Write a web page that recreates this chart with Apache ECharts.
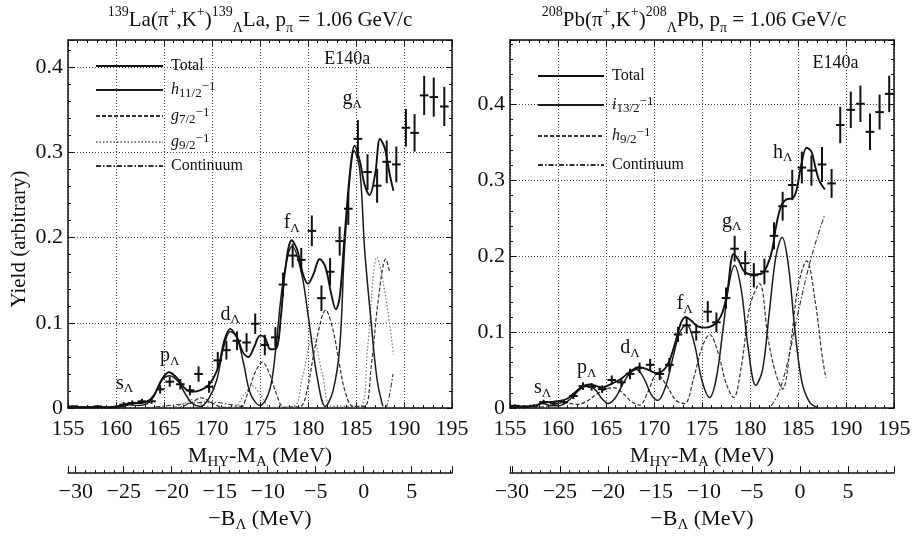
<!DOCTYPE html>
<html>
<head>
<meta charset="utf-8">
<script src="https://cdn.jsdelivr.net/npm/echarts@6/dist/echarts.min.js"></script>
<style>html,body{margin:0;padding:0;background:#fff}#c{width:915px;height:538px}</style>
</head>
<body>
<div id="c"></div>
<script>
// ---------------- DATA ----------------
// axis settings
const xMin = 155, xMax = 195, xStep = 5;
const laYMax = 0.432, pbYMax = 0.485, yStep = 0.1;
const laBOffset = 185.8, pbBOffset = 185.2;   // -B_Lambda = (M_HY - M_A) - offset

// 139La data points (M, yield, error)
const laX = [155.5,156.4,157.3,158.1,158.9,159.8,160.8,161.7,162.7,163.7,164.6,165.6,166.7,167.7,168.6,169.7,170.6,171.5,172.6,173.6,174.5,175.5,176.6,177.4,178.4,179.3,180.4,181.4,182.3,183.3,184.2,185.2,186.2,187.2,188.2,189.2,190.2,191.1,192.1,193.1,194.2];
const laY = [0.002,0.001,0.001,0.002,0.001,0.001,0.004,0.006,0.008,0.008,0.022,0.031,0.028,0.021,0.040,0.025,0.056,0.068,0.079,0.077,0.099,0.074,0.083,0.145,0.179,0.174,0.208,0.129,0.160,0.196,0.234,0.316,0.277,0.261,0.289,0.286,0.329,0.323,0.367,0.365,0.354];
const laErr = [0.001,0.001,0.001,0.001,0.001,0.001,0.003,0.003,0.003,0.003,0.005,0.006,0.006,0.006,0.009,0.007,0.010,0.011,0.011,0.011,0.012,0.012,0.012,0.014,0.014,0.014,0.018,0.015,0.016,0.017,0.019,0.022,0.021,0.020,0.025,0.021,0.022,0.022,0.023,0.023,0.023];

// 208Pb data points
const pbX = [155.5,156.5,157.5,158.5,159.6,160.6,161.6,162.6,163.5,164.6,165.6,166.6,167.5,168.5,169.6,170.6,171.6,172.5,173.4,174.4,175.6,176.5,177.5,178.4,179.5,180.4,181.5,182.5,183.4,184.4,185.4,186.4,187.5,188.5,189.4,190.5,191.5,192.5,193.5,194.5];
const pbY = [0.003,0.002,0.003,0.008,0.006,0.008,0.016,0.029,0.028,0.025,0.037,0.034,0.045,0.053,0.057,0.045,0.057,0.097,0.109,0.100,0.127,0.113,0.145,0.210,0.191,0.175,0.180,0.227,0.266,0.294,0.317,0.313,0.321,0.296,0.373,0.393,0.401,0.364,0.390,0.414];
const pbErr = [0.002,0.002,0.002,0.003,0.003,0.003,0.004,0.005,0.005,0.005,0.006,0.006,0.007,0.007,0.008,0.008,0.009,0.010,0.011,0.011,0.014,0.013,0.014,0.017,0.016,0.016,0.017,0.018,0.019,0.020,0.021,0.020,0.023,0.019,0.024,0.024,0.024,0.024,0.023,0.024];

// 139La fitted curves
const laTotal = [[155,0.001],[157,0.001],[159,0.001],[160,0.002],[160.8,0.004],[161.6,0.006],[162.5,0.006],[163.3,0.008],[164,0.016],[164.8,0.034],[165.5,0.042],[166.3,0.036],[167.1,0.024],[167.9,0.019],[168.8,0.021],[169.8,0.029],[170.7,0.05],[171.3,0.08],[171.9,0.093],[172.6,0.083],[173.2,0.066],[173.8,0.06],[174.4,0.072],[175,0.085],[175.5,0.083],[176.1,0.069],[176.7,0.07],[177.2,0.11],[177.6,0.16],[178.3,0.197],[178.9,0.185],[179.4,0.16],[180,0.146],[180.6,0.158],[181.2,0.175],[181.8,0.166],[182.4,0.135],[182.9,0.116],[183.3,0.13],[183.8,0.2],[184.4,0.28],[184.85,0.308],[185.4,0.29],[185.9,0.262],[186.4,0.25],[187,0.275],[187.5,0.316],[188,0.305],[188.5,0.275],[188.9,0.255]];
const laH11 = [[159.5,0],[160.5,0.002],[161.4,0.004],[162.3,0.003],[163.2,0.005],[163.9,0.013],[164.8,0.033],[165.6,0.038],[166.5,0.031],[167.2,0.017],[167.9,0.006],[168.8,0.002],[169.7,0.012],[170.5,0.033],[171.2,0.071],[171.9,0.09],[172.6,0.083],[173.3,0.052],[174,0.017],[175,0.003],[176,0.021],[176.6,0.065],[177.4,0.148],[178.35,0.19],[179.3,0.16],[180,0.11],[180.9,0.04],[181.8,0.002],[182.6,0.02],[183.3,0.071],[183.8,0.186],[184.4,0.275],[184.8,0.302],[185.4,0.279],[185.9,0.186],[186.5,0.11],[187.2,0.033],[187.8,0.002]];
const laG7 = [[166.5,0],[167.8,0.006],[168.9,0.012],[170,0.006],[171.2,0.001],[172.9,0.001],[173.8,0.02],[174.5,0.042],[175.25,0.054],[176,0.04],[176.7,0.017],[177.5,0.001],[179.2,0.002],[179.9,0.021],[180.8,0.075],[181.85,0.115],[182.6,0.092],[183.2,0.056],[183.9,0.018],[184.7,0.002],[185.9,0.002],[186.6,0.05],[187.3,0.125],[188.1,0.175],[188.5,0.16]];
const laG9 = [[165.8,0],[167,0.005],[167.9,0.01],[168.8,0.005],[170,0.001],[172.3,0.001],[173.3,0.015],[174.2,0.026],[175.1,0.015],[176.1,0.001],[178.5,0.002],[179.4,0.035],[180.5,0.083],[181.5,0.04],[182.5,0.002],[185.4,0.002],[186.2,0.07],[187.2,0.177],[188.1,0.13],[188.9,0.063]];
const laCont = [[163,0],[165.5,0.003],[168,0.006],[170,0.007],[172,0.004],[174,0],[174.1,'-'],[188.15,0],[188.5,0.016],[188.85,0.04]];

// 208Pb fitted curves
const pbTotal = [[155,0.002],[156.5,0.002],[157.6,0.003],[158.4,0.007],[159.2,0.008],[159.9,0.009],[160.9,0.012],[161.8,0.021],[162.6,0.029],[163.3,0.031],[164,0.029],[164.6,0.027],[165.4,0.031],[166.5,0.038],[167.5,0.048],[168.4,0.054],[169.3,0.051],[170.3,0.046],[171,0.05],[171.6,0.062],[172.3,0.09],[172.8,0.112],[173.3,0.12],[173.9,0.115],[174.5,0.108],[175.3,0.106],[176,0.108],[176.6,0.114],[177.1,0.125],[177.6,0.15],[178.3,0.203],[178.8,0.195],[179.4,0.18],[180.3,0.176],[181.2,0.177],[181.8,0.188],[182.3,0.208],[182.8,0.245],[183.3,0.268],[183.8,0.275],[184.5,0.277],[184.9,0.29],[185.3,0.318],[185.9,0.343],[186.4,0.338],[186.8,0.318],[187.2,0.3],[187.8,0.288]];
const pbI13 = [[155,0.001],[156.5,0.001],[157.5,0.003],[158.4,0.006],[159.3,0.003],[160,0.003],[160.8,0.007],[161.6,0.016],[162.3,0.025],[163.1,0.029],[163.9,0.024],[164.6,0.012],[165.2,0.006],[166,0.014],[166.8,0.033],[167.5,0.046],[168.2,0.051],[169,0.038],[169.7,0.018],[170.4,0.01],[171.2,0.028],[172,0.068],[172.7,0.1],[173.4,0.11],[174.2,0.085],[175,0.036],[175.8,0.014],[176.5,0.04],[177.2,0.105],[177.8,0.163],[178.4,0.188],[179.1,0.155],[179.8,0.08],[180.6,0.03],[181.3,0.05],[182,0.125],[182.7,0.2],[183.35,0.225],[184,0.188],[184.7,0.1],[185.4,0.035],[186.2,0.008],[187,0.001]];
const pbH9 = [[157.5,0],[159,0.003],[160.7,0.007],[162,0.005],[163,0.009],[164.1,0.019],[165,0.025],[165.8,0.027],[166.8,0.019],[167.7,0.008],[168.5,0.004],[169.4,0.022],[170.3,0.045],[171.3,0.03],[172.3,0.01],[173.2,0.006],[174.1,0.038],[175,0.08],[175.8,0.097],[176.7,0.072],[177.5,0.033],[178.3,0.014],[179.1,0.055],[180,0.135],[181,0.164],[181.9,0.09],[182.7,0.045],[183.4,0.025],[184.2,0.08],[185,0.16],[185.9,0.194],[186.8,0.14],[187.5,0.07],[187.9,0.04]];
const pbCont = [[182.2,0.003],[183,0.02],[184,0.065],[185,0.125],[186,0.18],[187,0.225],[187.8,0.255]];

// peak annotations
const laPeakNames = ['s','p','d','f','g'];
const laPeakX = [160.9,165.6,171.9,178.3,184.6];
const laPeakY = [0.029,0.061,0.11,0.217,0.363];
const pbPeakNames = ['s','p','d','f','g','h'];
const pbPeakX = [158.4,163.0,167.5,173.2,178.1,183.4];
const pbPeakY = [0.027,0.053,0.079,0.137,0.246,0.337];
const expLabel = 'E140a';
const laExpPos = [184.1, 0.409];
const pbExpPos = [188.9, 0.455];

// legend texts
const legendLabels = {
  laTotal: '{n|Total}',
  laH11: '{i|h}{sb|11/2}{sp|−1}',
  laG7: '{i|g}{sb|7/2}{sp|−1}',
  laG9: '{i|g}{sb|9/2}{sp|−1}',
  laCont: '{n|Continuum}',
  pbTotal: '{n|Total}',
  pbI13: '{i|i}{sb|13/2}{sp|−1}',
  pbH9: '{i|h}{sb|9/2}{sp|−1}',
  pbCont: '{n|Continuum}'
};

// ---------------- CHART ----------------
const FONT = 'Liberation Serif';
const INK = '#111';
const chart = echarts.init(document.getElementById('c'), null, {renderer: 'canvas'});

const grids = [
  {left: 68, top: 40, width: 384, height: 375},
  {left: 510, top: 40, width: 384, height: 376}
];

const axisNameRich = {
  a: {fontFamily: FONT, fontSize: 22, color: INK, lineHeight: 28, fontWeight: 'normal'},
  s: {fontFamily: FONT, fontSize: 15, color: INK, verticalAlign: 'bottom', lineHeight: 13, fontWeight: 'normal'}
};

function mainX(g) {
  return {
    gridIndex: g, type: 'value', position: 'bottom', min: xMin, max: xMax, interval: xStep,
    axisLine: {show: true, onZero: false, lineStyle: {color: INK, width: 1.5}},
    axisTick: {show: true, inside: true, length: 6, lineStyle: {color: INK, width: 1}},
    minorTick: {show: true, splitNumber: 5, length: 3, lineStyle: {color: INK, width: 1}},
    axisLabel: {fontFamily: FONT, fontSize: 22, color: INK, margin: 10},
    splitLine: {show: true, lineStyle: {color: '#444', type: [1, 2], width: 1}},
    name: '{a|M}{s|HY}{a|-M}{s|A}{a| (MeV)}', nameLocation: 'middle', nameGap: 31,
    nameTextStyle: {rich: axisNameRich}
  };
}
function secX(g, off) {
  return {
    gridIndex: g, type: 'value', position: 'bottom', offset: 65,
    min: xMin - off, max: xMax - off, splitNumber: 8,
    axisLine: {show: true, onZero: false, lineStyle: {color: INK, width: 1.5}},
    axisTick: {show: true, inside: true, length: 7, lineStyle: {color: INK, width: 1}},
    minorTick: {show: true, splitNumber: 5, length: 3, lineStyle: {color: INK, width: 1}},
    axisLabel: {fontFamily: FONT, fontSize: 22, color: INK, margin: 8, showMinLabel: false, showMaxLabel: false,
      formatter: v => (v < 0 ? '−' + Math.abs(v) : String(v))},
    splitLine: {show: false},
    name: '{a|−B}{s|Λ}{a| (MeV)}', nameLocation: 'middle', nameGap: 27,
    nameTextStyle: {rich: axisNameRich}
  };
}
function topX(g) {
  return {
    gridIndex: g, type: 'value', position: 'top', min: xMin, max: xMax, interval: xStep,
    axisLine: {show: true, onZero: false, lineStyle: {color: INK, width: 1.5}},
    axisTick: {show: true, inside: true, length: 6, lineStyle: {color: INK, width: 1}},
    minorTick: {show: true, splitNumber: 5, length: 3, lineStyle: {color: INK, width: 1}},
    axisLabel: {show: false}, splitLine: {show: false}
  };
}
function mainY(g, ymax, withName) {
  const o = {
    gridIndex: g, type: 'value', position: 'left', min: 0, max: ymax, interval: yStep,
    axisLine: {show: true, onZero: false, lineStyle: {color: INK, width: 1.5}},
    axisTick: {show: true, inside: true, length: 6, lineStyle: {color: INK, width: 1}},
    minorTick: {show: true, splitNumber: 5, length: 3, lineStyle: {color: INK, width: 1}},
    axisLabel: {fontFamily: FONT, fontSize: 22, color: INK, margin: 5, showMaxLabel: false,
      formatter: v => (v === 0 ? '0' : v.toFixed(1))},
    splitLine: {show: true, lineStyle: {color: '#444', type: [1, 2], width: 1}}
  };
  if (withName) {
    o.name = 'Yield (arbitrary)';
    o.nameLocation = 'middle';
    o.nameGap = 38;
    o.nameTextStyle = {fontFamily: FONT, fontSize: 21, color: INK, padding: [0, 30, 0, 0]};
  }
  return o;
}
function rightY(g, ymax) {
  return {
    gridIndex: g, type: 'value', position: 'right', min: 0, max: ymax, interval: yStep,
    axisLine: {show: true, onZero: false, lineStyle: {color: INK, width: 1.5}},
    axisTick: {show: true, inside: true, length: 6, lineStyle: {color: INK, width: 1}},
    minorTick: {show: true, splitNumber: 5, length: 3, lineStyle: {color: INK, width: 1}},
    axisLabel: {show: false}, splitLine: {show: false}
  };
}

const styles = {
  total: {color: INK, width: 1.9, type: 'solid'},
  comp: {color: '#1a1a1a', width: 1.5, type: 'solid'},
  dashed: {color: '#333', width: 1.2, type: [4, 2]},
  dotted: {color: '#777', width: 1.2, type: [1.5, 2]},
  cont: {color: '#333', width: 1.1, type: [5, 2, 1.5, 2]}
};

function curve(name, data, xi, yi, st) {
  return {
    type: 'line', name: name, data: data, xAxisIndex: xi, yAxisIndex: yi,
    symbol: 'none', showSymbol: false, smooth: 0.35, connectNulls: false,
    itemStyle: {color: st.color}, lineStyle: st, silent: true, z: 3
  };
}

const HALF_BIN = 0.45;
function crossRender(params, api) {
  const x = api.value(0), y = api.value(1), e = api.value(2);
  const l = api.coord([x - HALF_BIN, y]), r = api.coord([x + HALF_BIN, y]);
  const t = api.coord([x, y + e]), b = api.coord([x, y - e]);
  return {
    type: 'group',
    children: [
      {type: 'line', shape: {x1: l[0], y1: l[1], x2: r[0], y2: r[1]}, style: {stroke: INK, lineWidth: 2}},
      {type: 'line', shape: {x1: t[0], y1: t[1], x2: b[0], y2: b[1]}, style: {stroke: INK, lineWidth: 2}}
    ]
  };
}
function points(xs, ys, es, xi, yi) {
  return {
    type: 'custom', xAxisIndex: xi, yAxisIndex: yi, renderItem: crossRender,
    data: xs.map((x, i) => [x, ys[i], es[i]]), encode: {x: 0, y: 1}, z: 5, silent: true, clip: false
  };
}

const peakRich = {
  m: {fontFamily: FONT, fontSize: 20, color: INK, lineHeight: 24},
  l: {fontFamily: FONT, fontSize: 13, color: INK, verticalAlign: 'bottom', lineHeight: 12},
  e: {fontFamily: FONT, fontSize: 18, color: INK, lineHeight: 22}
};
function peakLabels(names, xs, ys, exp, xi, yi) {
  const data = names.map((n, i) => ({value: [xs[i], ys[i]], name: '{m|' + n + '}{l|Λ}'}));
  data.push({value: exp, name: '{e|' + expLabel + '}'});
  return {
    type: 'scatter', xAxisIndex: xi, yAxisIndex: yi, symbolSize: 0, silent: true, z: 6,
    itemStyle: {opacity: 1, color: INK},
    data: data,
    label: {show: true, position: 'inside', color: INK, opacity: 1, formatter: p => p.name, rich: peakRich}
  };
}

const titleRich = {
  t: {fontFamily: FONT, fontSize: 21, fontWeight: 'normal', color: INK, lineHeight: 30},
  sup: {fontFamily: FONT, fontSize: 14, fontWeight: 'normal', color: INK, verticalAlign: 'top', lineHeight: 14},
  sub: {fontFamily: FONT, fontSize: 14, fontWeight: 'normal', color: INK, verticalAlign: 'bottom', lineHeight: 14}
};

const legendRich = {
  n: {fontFamily: FONT, fontSize: 16, color: INK, lineHeight: 20},
  i: {fontFamily: FONT, fontSize: 16, fontStyle: 'italic', color: INK, lineHeight: 20},
  sb: {fontFamily: FONT, fontSize: 13, color: INK, verticalAlign: 'bottom', lineHeight: 12},
  sp: {fontFamily: FONT, fontSize: 13, color: INK, verticalAlign: 'top', lineHeight: 12}
};
function legend(names, left, top, gap, w) {
  return {
    data: names, orient: 'vertical', left: left, top: top, padding: 0,
    itemWidth: w, itemHeight: 20, itemGap: gap, selectedMode: false,
    itemStyle: {opacity: 0},
    formatter: n => legendLabels[n],
    textStyle: {fontFamily: FONT, fontSize: 16, color: INK, padding: [0, 0, 0, 3], rich: legendRich}
  };
}

const option = {
  backgroundColor: '#fff',
  animation: false,
  title: [
    {text: '{sup|139}{t|La(π}{sup|+}{t|,K}{sup|+}{t|)}{sup|139}{sub|Λ}{t|La, p}{sub|π}{t| = 1.06 GeV/c}',
     left: 260, top: 5, textAlign: 'center', padding: 0,
     textStyle: {fontWeight: 'normal', fontFamily: FONT, rich: titleRich}},
    {text: '{sup|208}{t|Pb(π}{sup|+}{t|,K}{sup|+}{t|)}{sup|208}{sub|Λ}{t|Pb, p}{sub|π}{t| = 1.06 GeV/c}',
     left: 694, top: 5, textAlign: 'center', padding: 0,
     textStyle: {fontWeight: 'normal', fontFamily: FONT, rich: titleRich}}
  ],
  legend: [
    legend(['laTotal', 'laH11', 'laG7', 'laG9', 'laCont'], 95, 58, 6, 67),
    legend(['pbTotal', 'pbI13', 'pbH9', 'pbCont'], 537, 68, 11, 66)
  ],
  grid: grids,
  xAxis: [mainX(0), secX(0, laBOffset), topX(0), mainX(1), secX(1, pbBOffset), topX(1)],
  yAxis: [mainY(0, laYMax, true), rightY(0, laYMax), mainY(1, pbYMax, false), rightY(1, pbYMax)],
  series: [
    curve('laCont', laCont, 0, 0, styles.cont),
    curve('laG9', laG9, 0, 0, styles.dotted),
    curve('laG7', laG7, 0, 0, styles.dashed),
    curve('laH11', laH11, 0, 0, styles.comp),
    curve('laTotal', laTotal, 0, 0, styles.total),
    points(laX, laY, laErr, 0, 0),
    peakLabels(laPeakNames, laPeakX, laPeakY, laExpPos, 0, 0),
    curve('pbCont', pbCont, 3, 2, styles.cont),
    curve('pbH9', pbH9, 3, 2, styles.dashed),
    curve('pbI13', pbI13, 3, 2, styles.comp),
    curve('pbTotal', pbTotal, 3, 2, styles.total),
    points(pbX, pbY, pbErr, 3, 2),
    peakLabels(pbPeakNames, pbPeakX, pbPeakY, pbExpPos, 3, 2)
  ]
};
chart.setOption(option);
</script>
</body>
</html>
